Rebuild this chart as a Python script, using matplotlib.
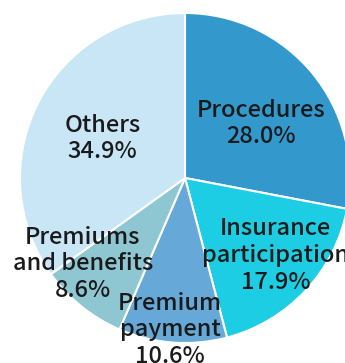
import matplotlib.pyplot as plt

labels = ["Procedures", "Insurance\nparticipation", "Premium\npayment",
          "Premiums\nand benefits", "Others"]
shares = [28.0, 17.9, 10.6, 8.6, 34.9]
colors = ["#3399cc", "#1ccde3", "#66a8d8", "#8ec7d2", "#c8e6f6"]

# label anchor points (data units, pie radius = 1)
label_pos = [(0.46, 0.33), (0.55, -0.47), (-0.09, -0.92),
             (-0.62, -0.52), (-0.50, 0.24)]

fig = plt.figure(figsize=(3.45, 3.63), dpi=100)
ax = fig.add_axes([0, 0, 1, 1])

ax.pie(shares, colors=colors, startangle=90, counterclock=False,
       radius=1, center=(0, 0),
       wedgeprops=dict(edgecolor="white", linewidth=1.5))

for lab, val, (x, y) in zip(labels, shares, label_pos):
    ax.text(x, y, f"{lab}\n{val:.1f}%", ha="center", va="center",
            fontsize=17, color="#1a1a1a", linespacing=1.2,
            fontweight="medium",
            family=["Noto Sans CJK JP", "DejaVu Sans"])

# 165 px per unit, centre at (185, 178) from top-left
ax.set_xlim(-185 / 165, 160 / 165)
ax.set_ylim(-185 / 165, 178 / 165)
ax.set_aspect("equal")
ax.axis("off")

fig.savefig("out.png", dpi=100)
